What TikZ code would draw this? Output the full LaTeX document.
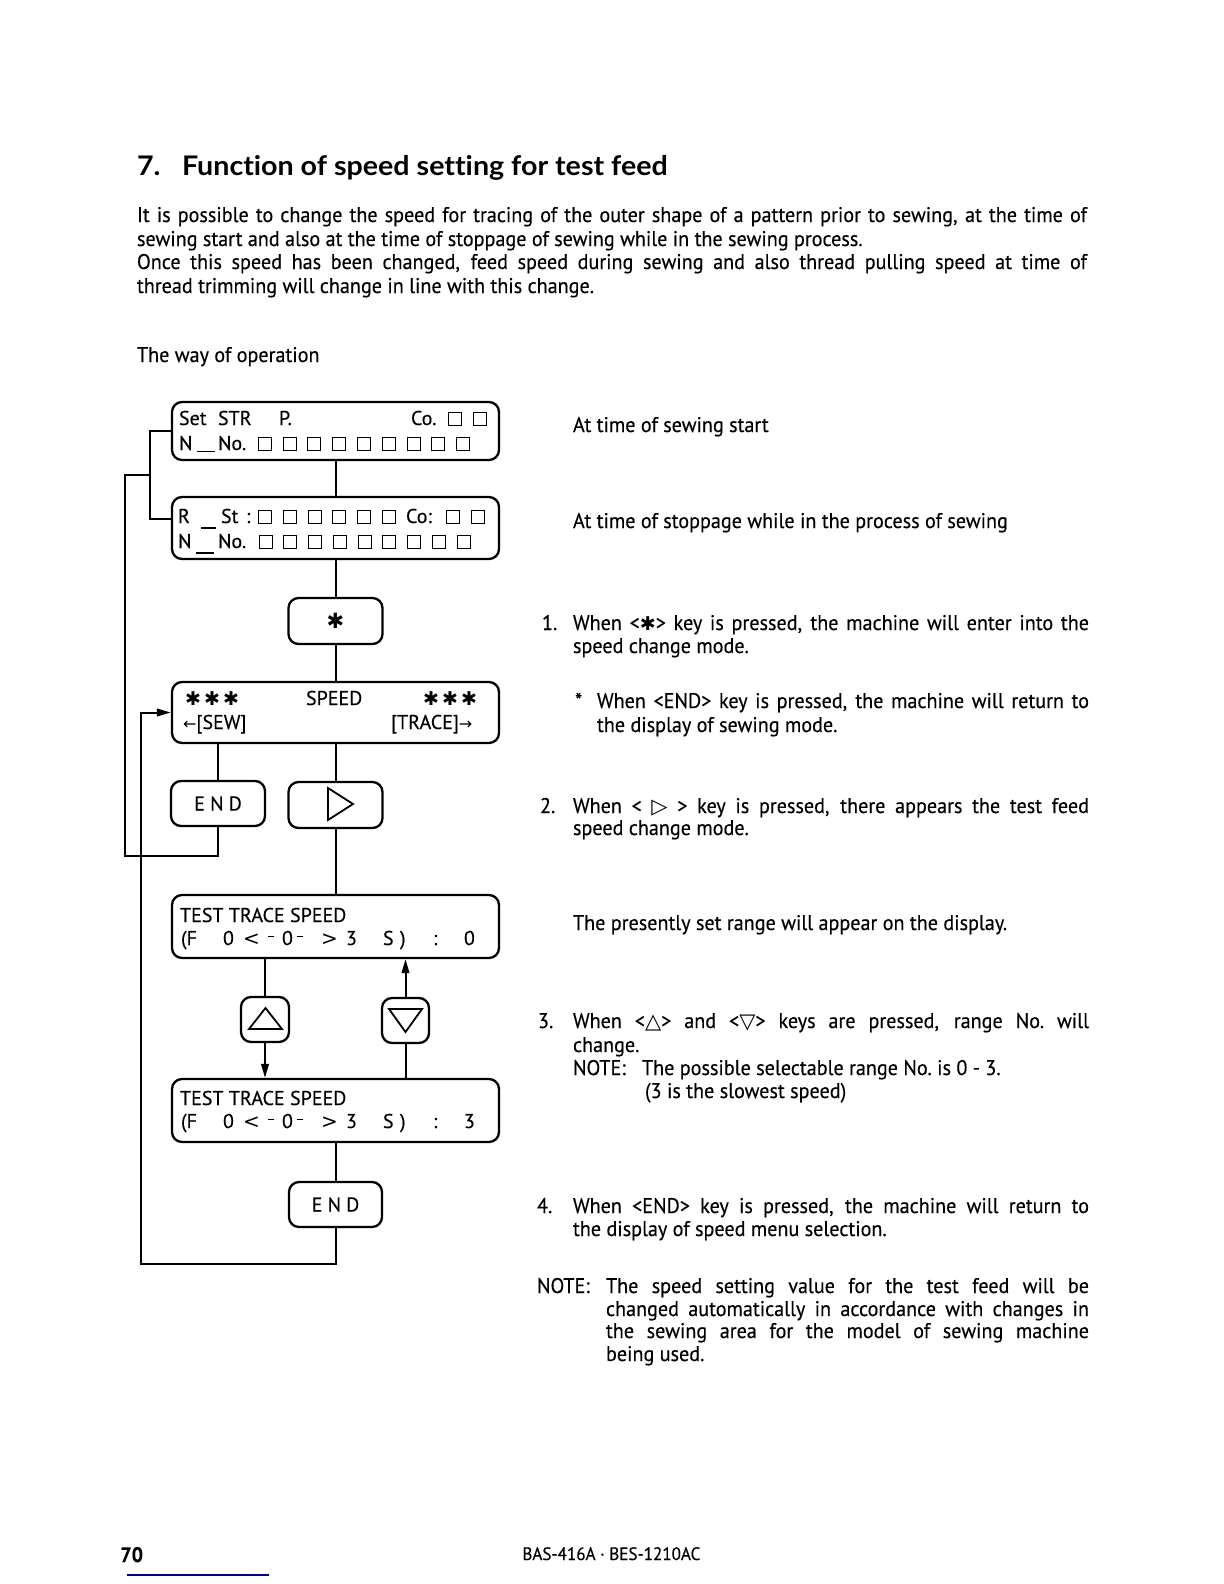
\documentclass[tikz,border=0pt]{standalone}
\usepackage{fontspec}
\setmainfont[FakeStretch=0.95,FakeBold=0.3]{PT Sans}
\newfontfamily\dispfont[FakeBold=0.3]{PT Sans}
\newfontfamily\titlefont[FakeStretch=1.06,Ligatures=NoCommon]{Lato}
\newfontfamily\sym{DejaVu Sans}
\usetikzlibrary{arrows.meta,calc}
\newdimen\upx \upx=0.5pt
\newcommand\pc[2]{\makebox[0pt][l]{\hspace*{#1\upx}#2}}
\newcommand\sq{{\setlength\fboxsep{0pt}\setlength\fboxrule{0.65pt}\fbox{\rule{0pt}{5.9pt}\hspace{5.9pt}}}}
\newcommand\hstar{{\sym\fontsize{9.5}{9.5}\selectfont ✱}}
\newcommand\tsym[1]{{\sym\fontsize{10.5}{10.5}\selectfont #1}}
\newcommand\jl[2]{\makebox[#1\upx][s]{#2}}
\newcommand\dsh{\raisebox{3.8pt}{\rule{3pt}{0.75pt}}}
\newcommand\bodyfs{\fontsize{10.6}{12}\selectfont}
\newcommand\dispfs{\dispfont\fontsize{10}{11}\selectfont}
\begin{document}
\begin{tikzpicture}[x=0.5pt,y=-0.5pt,
  txt/.style={anchor=base west,inner sep=0pt,outer sep=0pt,font=\bodyfs},
  ttl/.style={anchor=base west,inner sep=0pt,outer sep=0pt,font=\titlefont\bfseries\fontsize{13.5}{15}\selectfont},
  dtx/.style={anchor=base west,inner sep=0pt,outer sep=0pt,font=\dispfs},
  disp/.style={draw,line width=1.15pt,rounded corners=5pt,inner sep=0pt},
  keybox/.style={draw,line width=1.15pt,rounded corners=5pt,inner sep=0pt,font=\dispfs},
  conn/.style={line width=1pt},
  arr/.style={-{Triangle[length=7pt,width=3.8pt]}}]
\useasboundingbox (0,0) rectangle (1224,1584);
\fill[white] (0,0) rectangle (1224,1584);

% ---------- heading and paragraph ----------
\node[ttl] (t7) at (137,175) {7.};
\node[ttl] (tt) at (182,175) {Function of speed setting for test feed};
\node[txt] (p1) at (137,222) {\jl{950}{It is possible to change the speed for tracing of the outer shape of a pattern prior to sewing, at the time of}};
\node[txt] (p2) at (137,246) {sewing start and also at the time of stoppage of sewing while in the sewing process.};
\node[txt] (p3) at (137,269) {\jl{950}{Once this speed has been changed, feed speed during sewing and also thread pulling speed at time of}};
\node[txt] (p4) at (137,293) {thread trimming will change in line with this change.};
\node[txt] (way) at (137,362) {The way of operation};

% ---------- right column ----------
\node[txt] (r0) at (573,432) {At time of sewing start};
\node[txt] (r00) at (573,528) {At time of stoppage while in the process of sewing};
\node[txt] (n1) at (542,630) {1.};
\node[txt] (r1a) at (573,630) {\jl{516}{When <\hstar> key is pressed, the machine will enter into the}};
\node[txt] (r1b) at (573,653) {speed change mode.};
\node[txt] (nst) at (575,708) {*};
\node[txt] (r2a) at (597,708) {\jl{492}{When <END> key is pressed, the machine will return to}};
\node[txt] (r2b) at (597,732) {the display of sewing mode.};
\node[txt] (n2) at (540,813) {2.};
\node[txt] (r3a) at (573,813) {\jl{516}{When < \tsym{▷} > key is pressed, there appears the test feed}};
\node[txt] (r3b) at (573,835) {speed change mode.};
\node[txt] (r4) at (573,930) {The presently set range will appear on the display.};
\node[txt] (n3) at (538,1028) {3.};
\node[txt] (r5a) at (573,1028) {\jl{516}{When <\tsym{△}> and <\tsym{▽}> keys are pressed, range No.\ will}};
\node[txt] (r5b) at (573,1052) {change.};
\node[txt] (r5c) at (573,1075) {NOTE:};
\node[txt] (r5d) at (642,1075) {The possible selectable range No.\ is 0 - 3.};
\node[txt] (r5e) at (645,1098) {(3 is the slowest speed)};
\node[txt] (n4) at (537,1213) {4.};
\node[txt] (r6a) at (573,1213) {\jl{516}{When <END> key is pressed, the machine will return to}};
\node[txt] (r6b) at (573,1236) {the display of speed menu selection.};
\node[txt] (nt) at (537,1293) {NOTE:};
\node[txt] (r7a) at (606,1293) {\jl{483}{The speed setting value for the test feed will be}};
\node[txt] (r7b) at (606,1316) {\jl{483}{changed automatically in accordance with changes in}};
\node[txt] (r7c) at (606,1338) {\jl{483}{the sewing area for the model of sewing machine}};
\node[txt] (r7d) at (606,1361) {being used.};

% ---------- footer ----------
\node[anchor=base west,inner sep=0pt,font=\bfseries\fontsize{10.5}{12}\selectfont] (pg) at (120,1562) {70};
\draw[blue!55!black,line width=0.7pt] (127,1575) -- (269,1575);
\node[anchor=base west,inner sep=0pt,font=\fontsize{9}{10}\selectfont] (ft) at (522,1560) {BAS-416A · BES-1210AC};

% ---------- flowchart boxes ----------
\node[disp,minimum width=163.5pt,minimum height=29pt] (d1) at (335.5,431) {};
\node[disp,minimum width=163.5pt,minimum height=31pt] (d2) at (335.5,528) {};
\node[keybox,minimum width=47pt,minimum height=23pt] (star) at (335.5,621) {\sym\fontsize{10.5}{10.5}\selectfont ✱};
\node[disp,minimum width=163.5pt,minimum height=30.5pt] (spd) at (335.5,712.5) {};
\node[keybox,minimum width=47pt,minimum height=22.5pt] (end1) at (218,803.5) {E\kern2.6pt N\kern2.6pt D};
\node[keybox,minimum width=47pt,minimum height=23pt] (tri) at (335.5,805) {};
\node[disp,minimum width=163.5pt,minimum height=31.5pt] (tts1) at (335.5,926.5) {};
\node[keybox,minimum width=24pt,minimum height=22.5pt] (up) at (265,1019.5) {};
\node[keybox,minimum width=23.5pt,minimum height=22.5pt] (dn) at (405.5,1020.5) {};
\node[disp,minimum width=163.5pt,minimum height=31.5pt] (tts2) at (335.5,1110.5) {};
\node[keybox,minimum width=46.5pt,minimum height=22.5pt] (end2) at (335.5,1204.5) {E\kern2.6pt N\kern2.6pt D};

% key symbols
\draw[line width=0.9pt,line join=miter] (328,788) -- (353,804) -- (328,820) -- cycle;
\draw[line width=0.9pt] (249,1029) -- (265.5,1008) -- (282,1029) -- cycle;
\draw[line width=0.9pt] (389,1009) -- (422,1009) -- (405.5,1032) -- cycle;

% display texts
\node[dtx] (d1a) at (178,425) {\pc{0}{Set}\pc{39}{STR}\pc{100}{P.}\pc{232}{Co.}\pc{269}{\sq}\pc{294}{\sq}};
\node[dtx] (d1b) at (178,450) {\pc{0}{N}\pc{18}{\rule[-1pt]{9pt}{0.7pt}}\pc{39}{No.}\pc{79}{\sq}\pc{104}{\sq}\pc{128}{\sq}\pc{153}{\sq}\pc{178}{\sq}\pc{203}{\sq}\pc{228}{\sq}\pc{252}{\sq}\pc{277}{\sq}};
\node[dtx] (d2a) at (177,523) {\pc{0}{R}\pc{23}{\rule[-2.8pt]{7.5pt}{0.7pt}}\pc{43}{St}\pc{68}{:}\pc{80}{\sq}\pc{105}{\sq}\pc{130}{\sq}\pc{154}{\sq}\pc{179}{\sq}\pc{204}{\sq}\pc{228}{Co:}\pc{268}{\sq}\pc{293}{\sq}};
\node[dtx] (d2b) at (177,548) {\pc{0}{N}\pc{18}{\rule[-2.8pt]{9pt}{0.7pt}}\pc{40}{No.}\pc{81}{\sq}\pc{105}{\sq}\pc{130}{\sq}\pc{155}{\sq}\pc{180}{\sq}\pc{204}{\sq}\pc{229}{\sq}\pc{254}{\sq}\pc{279}{\sq}};
\node[dtx] (sa) at (182,705) {\pc{2}{\hstar}\pc{21}{\hstar}\pc{40}{\hstar}\pc{123}{SPEED}\pc{240}{\hstar}\pc{259}{\hstar}\pc{278}{\hstar}};
\node[dtx] (sb) at (182,729) {\pc{0}{{\sym\fontsize{8}{8}\selectfont ←}[SEW]}\pc{208}{[TRACE]{\sym\fontsize{8}{8}\selectfont →}}};
\node[dtx] (ta) at (180,922) {TEST TRACE SPEED};
\node[dtx] (tb) at (180,945) {\pc{0}{(F}\pc{42}{0}\pc{62}{{\sym <}}\pc{87}{\dsh}\pc{101}{0}\pc{116}{\dsh}\pc{140}{{\sym >}}\pc{165}{3}\pc{202}{S}\pc{219}{)}\pc{252}{:}\pc{283}{0}};
\node[dtx] (tc) at (180,1105) {TEST TRACE SPEED};
\node[dtx] (td) at (180,1128) {\pc{0}{(F}\pc{42}{0}\pc{62}{{\sym <}}\pc{87}{\dsh}\pc{101}{0}\pc{116}{\dsh}\pc{140}{{\sym >}}\pc{165}{3}\pc{202}{S}\pc{219}{)}\pc{252}{:}\pc{283}{3}};

% ---------- connectors ----------
\draw[conn] (d1) -- (d2);
\draw[conn] (d2) -- (star);
\draw[conn] (star) -- (spd);
\draw[conn] (spd.south -| end1) -- (end1.north);
\draw[conn] (spd) -- (tri);
\draw[conn] (tri) -- (tts1);
\draw[conn] (tts1.south -| up) -- (up.north);
\draw[conn,arr] (up.south) -- (up.south |- tts2.north);
\draw[conn] (tts2.north -| dn) -- (dn.south);
\draw[conn,arr] (dn.north) -- (dn.north |- tts1.south);
\draw[conn] (tts2) -- (end2);
\coordinate (c1) at (141,1264);
\draw[conn,arr] (end2.south) |- (c1) |- (spd.west);
\coordinate (c2) at (125,856);
\coordinate (c3) at (150,475);
\draw[conn] (end1.south) |- (c2) |- (c3);
\coordinate (b2) at ($(d2.west)+(0,-9)$);
\draw[conn] (d1.west) -- (d1.west -| c3) -- (c3 |- b2) -- (b2);
\end{tikzpicture}
\end{document}
